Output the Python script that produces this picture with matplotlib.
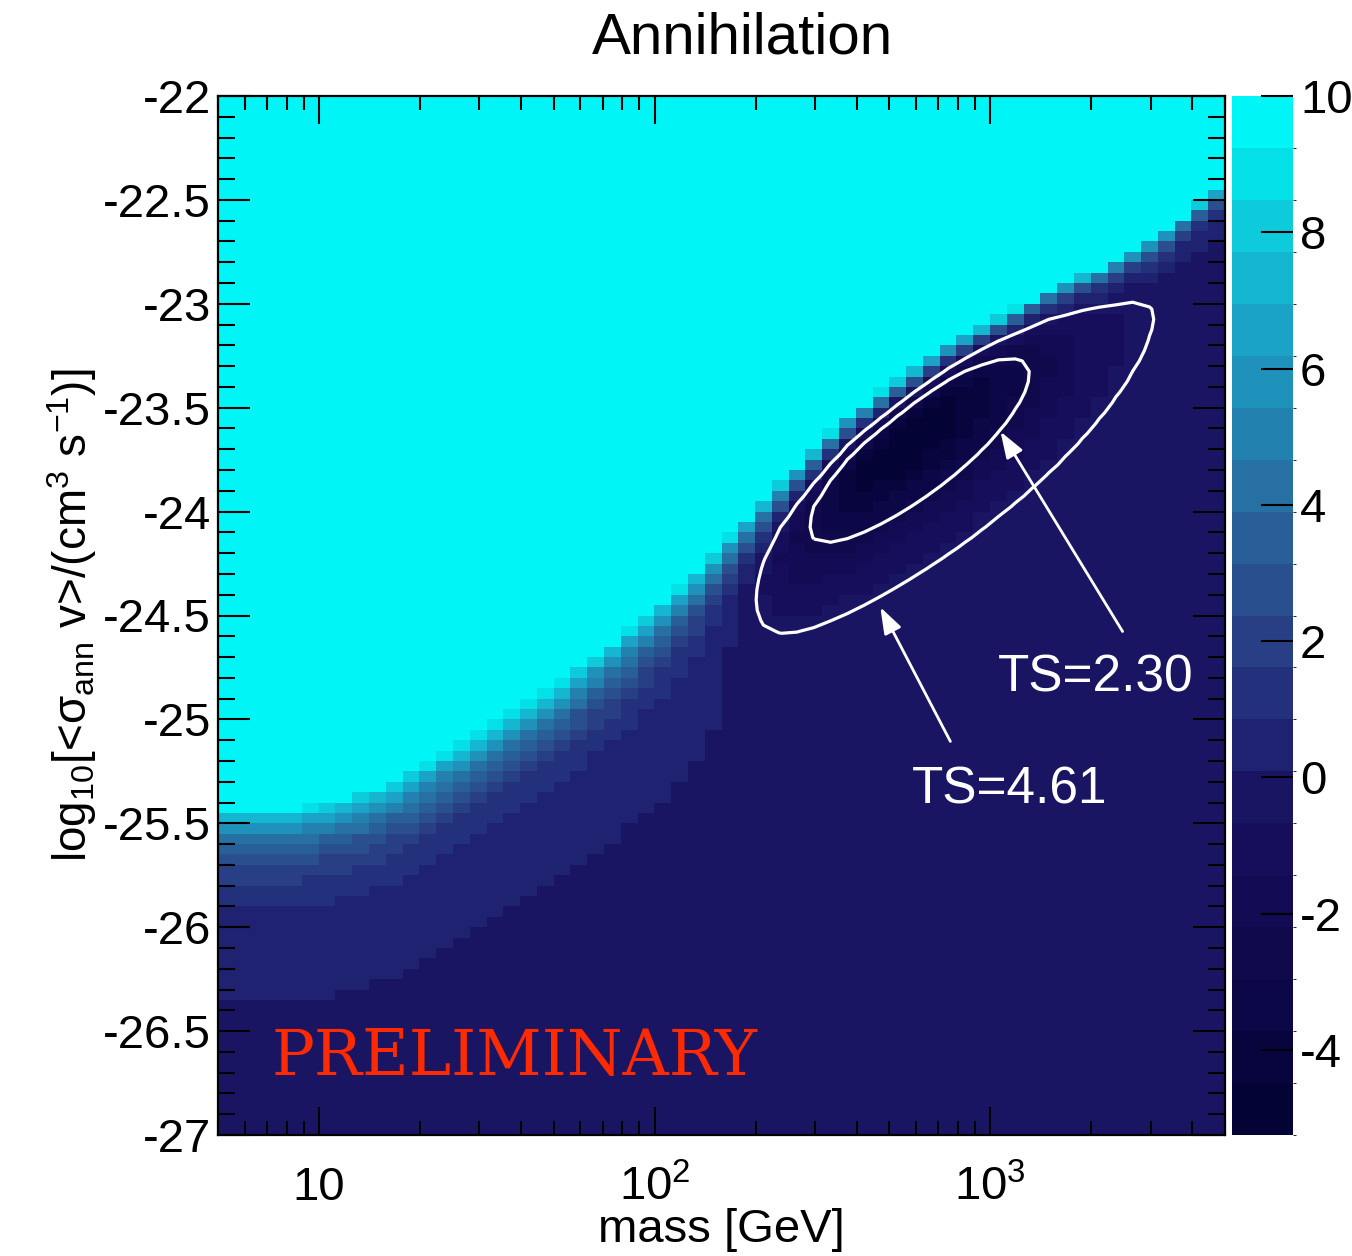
import numpy as np
import matplotlib.pyplot as plt
from matplotlib.colors import ListedColormap, BoundaryNorm
from matplotlib.ticker import MultipleLocator, LogLocator, NullFormatter

plt.rcParams['font.family'] = ['Liberation Sans', 'DejaVu Sans']
plt.rcParams['mathtext.fontset'] = 'custom'
plt.rcParams['mathtext.rm'] = 'Liberation Sans'
plt.rcParams['mathtext.it'] = 'Liberation Sans:italic'

# --- values ---
# bottom edge of the saturated (TS >= top level) region, per mass
edge_mass = [5, 8.7, 11.9, 14.1, 17.3, 26, 52, 97, 136, 206, 382, 760, 1510, 2330, 3330, 4700]
edge_logsv = [-25.43, -25.43, -25.38, -25.34, -25.29, -25.13, -24.83, -24.50,
              -24.30, -23.99, -23.55, -23.21, -22.94, -22.80, -22.65, -22.45]
# how fast TS climbs below that edge (dex^-1)
steep_mass = [5, 100, 200, 400, 1000, 2000, 5000]
steep_p = [2.15, 2.15, 2.35, 3.7, 5.4, 5.9, 6.7]
# the excess (best fit region)
dip_mass = 516.0
dip_logsv = -23.645
dip_depth = 5.6
dip_angle = 54.5          # degrees, in (log m, log sv)
dip_sig_low = 0.56        # along the long axis, towards low mass
dip_sig_high = 0.53
dip_sig_up = 0.115        # towards the saturated edge
dip_sig_down = 0.21

ts_levels = np.linspace(-5.25, 10, 21)
palette = ['#040335', '#08053e', '#0c0746', '#100a4d', '#130b54', '#170e5b',
           '#1a1562', '#1e2270', '#23307b', '#283f85', '#2a4f8f', '#295f98',
           '#2670a4', '#2381b0', '#1f92bc', '#1aa3c6', '#14b6d0', '#0ecbdc',
           '#03e0e6', '#00f6f6']
contour_ts = [2.30, 4.61]

# grid: 60 log-mass bins x 100 cross-section bins
lm_edges = np.linspace(np.log10(5), np.log10(5000), 61)
y_edges = np.linspace(-27, -22, 101)
lm_c = 0.5 * (lm_edges[1:] + lm_edges[:-1])
y_c = 0.5 * (y_edges[1:] + y_edges[:-1])
LM, Y = np.meshgrid(lm_c, y_c)

yb = np.interp(LM, np.log10(edge_mass), edge_logsv)
p = np.interp(LM, np.log10(steep_mass), steep_p)
rise = ts_levels[-2] * 10 ** (p * (Y - yb))

a = np.radians(dip_angle)
dx = LM - np.log10(dip_mass)
dy = Y - dip_logsv
t = dx * np.cos(a) + dy * np.sin(a)
s = -dx * np.sin(a) + dy * np.cos(a)
sig_t = np.where(t < 0, dip_sig_low, dip_sig_high)
sig_s = np.where(s > 0, dip_sig_up, dip_sig_down)
dip = -dip_depth * np.exp(-0.5 * ((t / sig_t) ** 2 + (s / sig_s) ** 2))

ts = np.minimum(rise + dip, 10)
ts = np.maximum(ts, ts_levels[0])

fig = plt.figure(figsize=(13.52, 12.56), dpi=100)
ax = fig.add_axes([218 / 1352, 1 - 1135 / 1256, 1007 / 1352, 1039 / 1256])
cax = fig.add_axes([1232 / 1352, 1 - 1135 / 1256, 61 / 1352, 1039 / 1256])

cmap = ListedColormap(palette)
norm = BoundaryNorm(ts_levels, cmap.N)
mesh = ax.pcolormesh(10 ** lm_edges, y_edges, ts, cmap=cmap, norm=norm)
ax.contour(10 ** lm_c, y_c, ts, levels=[ts.min() + c for c in contour_ts],
           colors='white', linewidths=2.3, linestyles='solid')

ax.set_xscale('log')
ax.set_xlim(5, 5000)
ax.set_ylim(-27, -22)

ax.set_xticks([10, 100, 1000])
ax.set_xticklabels(['10', '$10^{2}$', '$10^{3}$'])
ax.xaxis.set_minor_locator(LogLocator(base=10, subs=np.arange(2, 10)))
ax.xaxis.set_minor_formatter(NullFormatter())
yt = np.arange(-27, -21.9, 0.5)
ax.set_yticks(yt)
ax.set_yticklabels(['%g' % v for v in yt])
ax.yaxis.set_minor_locator(MultipleLocator(0.1))

ax.tick_params(which='both', direction='in', top=True, right=True, width=1.5,
               labelsize=34, colors='black')
ax.tick_params(axis='x', which='major', length=20, pad=22)
ax.tick_params(axis='x', which='minor', length=10)
ax.tick_params(axis='y', which='major', length=23, pad=5)
ax.tick_params(axis='y', which='minor', length=12)
for sp in ax.spines.values():
    sp.set_linewidth(1.6)

ax.set_xlabel('mass [GeV]', fontsize=34)
ax.xaxis.set_label_coords(0.5, -0.07)
ax.set_ylabel('log$_{10}$[<σ$_{\\mathrm{ann}}$ v>/(cm$^{3}$ s$^{-1}$)]', fontsize=33)
ax.yaxis.set_label_coords(-0.118, 0.5)

fig.text(742 / 1352, 1 - 38 / 1256, 'Annihilation', ha='center', va='center', fontsize=42)

ax.text(7.2, -26.71, 'PRELIMINARY', color='#ff2a00', fontsize=46,
        family='DejaVu Serif', ha='left', va='baseline')

arrow = dict(arrowstyle='-|>,head_length=0.8,head_width=0.28', color='white',
             lw=2, mutation_scale=20, shrinkA=0, shrinkB=0)
ax.annotate('', xy=(1072, -23.615), xytext=(2477, -24.577), arrowprops=arrow)
ax.annotate('', xy=(470, -24.46), xytext=(760, -25.106), arrowprops=arrow)
ax.text(2056, -24.80, 'TS=2.30', color='white', fontsize=37, ha='center', va='center')
ax.text(1140, -25.34, 'TS=4.61', color='white', fontsize=37, ha='center', va='center')

cb = fig.colorbar(mesh, cax=cax, ticks=[-4, -2, 0, 2, 4, 6, 8, 10])
cb.outline.set_visible(False)
cb.ax.tick_params(direction='in', length=23, width=1.5, labelsize=34, pad=5)
cb.ax.set_yticklabels(['-4', '-2', '0', '2', '4', '6', '8', '10'])

fig.savefig('out.png', dpi=100)
